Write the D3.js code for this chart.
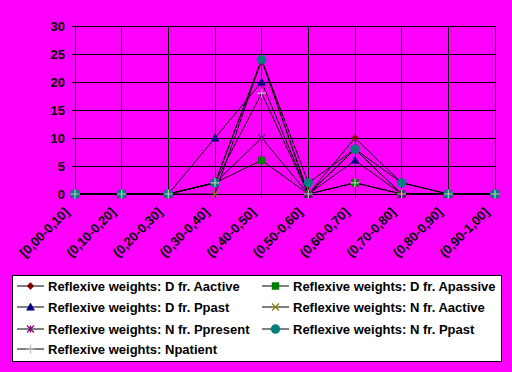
<!DOCTYPE html>
<html>
<head>
<meta charset="utf-8">
<script src="https://cdn.jsdelivr.net/npm/d3@7"></script>
<style>
  body { margin: 0; background: #ff00ff; }
  svg { display: block; font-family: Arial, "Liberation Sans", sans-serif; }
</style>
</head>
<body>
<div id="chart"></div>
<script>
// Categories and series values
const categories = ["[0,00-0,10]", "(0,10-0,20]", "(0,20-0,30]", "(0,30-0,40]", "(0,40-0,50]",
    "(0,50-0,60]", "(0,60-0,70]", "(0,70-0,80]", "(0,80-0,90]", "(0,90-1,00]"];
const seriesNames = [
    "Reflexive weights: D fr. Aactive",
    "Reflexive weights: D fr. Apassive",
    "Reflexive weights: D fr. Ppast",
    "Reflexive weights: N fr. Aactive",
    "Reflexive weights: N fr. Ppresent",
    "Reflexive weights: N fr. Ppast",
    "Reflexive weights: Npatient"
];
const dAactive  = [0, 0, 0, 2, 24, 0, 10, 2, 0, 0];
const dApassive = [0, 0, 0, 2, 6, 0, 2, 0, 0, 0];
const dPpast    = [0, 0, 0, 10, 20, 0, 6, 0, 0, 0];
const nAactive  = [0, 0, 0, 0, 24, 0, 8, 0, 0, 0];
const nPpresent = [0, 0, 0, 2, 10, 0, 8, 0, 0, 0];
const nPpast    = [0, 0, 0, 2, 24, 2, 8, 2, 0, 0];
const nPatient  = [0, 0, 0, 2, 18, 0, 2, 0, 0, 0];
const yTicks = [0, 5, 10, 15, 20, 25, 30];

const seriesValues = [dAactive, dApassive, dPpast, nAactive, nPpresent, nPpast, nPatient];
const colors = ["#800000", "#008000", "#000080", "#808000", "#800080", "#008080", "#c0c0c0"];
const shapes = ["diamond", "square", "triangle", "x", "asterisk", "circle", "plus"];

const width = 512, height = 372;

const svg = d3.select("#chart").append("svg")
    .attr("width", width)
    .attr("height", height);

svg.append("rect").attr("width", width).attr("height", height).attr("fill", "#ff00ff");

const x = d3.scalePoint().domain(categories).range([75, 495]);
const y = d3.scaleLinear().domain([0, 30]).range([194, 26]);

// Gridlines
const grid = svg.append("g").attr("stroke", "#000").attr("stroke-width", 1).attr("shape-rendering", "crispEdges");
grid.selectAll("line.h")
    .data(yTicks)
    .join("line")
    .attr("class", "h")
    .attr("x1", 72).attr("x2", 495)
    .attr("y1", d => y(d)).attr("y2", d => y(d));
grid.selectAll("line.v")
    .data(categories)
    .join("line")
    .attr("class", "v")
    .attr("x1", d => x(d)).attr("x2", d => x(d))
    .attr("y1", 26).attr("y2", 198);

// Y axis labels
svg.append("g")
    .selectAll("text")
    .data(yTicks)
    .join("text")
    .attr("x", 65)
    .attr("y", d => y(d) + 5)
    .attr("text-anchor", "end")
    .attr("font-size", 13)
    .attr("font-weight", "bold")
    .text(d => d);

// X axis labels, rotated
svg.append("g")
    .selectAll("text")
    .data(categories)
    .join("text")
    .attr("transform", d => `translate(${x(d) - 5},${213}) rotate(-45)`)
    .attr("text-anchor", "end")
    .attr("font-size", 13)
    .attr("font-weight", "bold")
    .text(d => d);

// Marker path builder
function markerPath(shape, s) {
    switch (shape) {
        case "diamond": return `M0,${-s}L${s},0L0,${s}L${-s},0Z`;
        case "square": return `M${-s},${-s}H${s}V${s}H${-s}Z`;
        case "triangle": return `M0,${-s}L${s},${s * 0.8}L${-s},${s * 0.8}Z`;
        case "x": return `M${-s},${-s}L${s},${s}M${s},${-s}L${-s},${s}`;
        case "asterisk": return `M${-s},${-s}L${s},${s}M${s},${-s}L${-s},${s}M0,${-s}V${s}`;
        case "plus": return `M${-s},0H${s}M0,${-s}V${s}`;
        case "circle": return d3.arc()({innerRadius: 0, outerRadius: s, startAngle: 0, endAngle: 2 * Math.PI});
    }
}
const markerSize = { diamond: 3.5, square: 3.5, triangle: 4, x: 3.5, asterisk: 3.5, circle: 4.5, plus: 4.5 };
const strokeShapes = ["x", "asterisk", "plus"];

function drawMarker(g, i, cx, cy) {
    const shape = shapes[i];
    const p = g.append("path")
        .attr("transform", `translate(${cx},${cy})`)
        .attr("d", markerPath(shape, markerSize[shape]));
    if (strokeShapes.includes(shape)) {
        p.attr("fill", "none").attr("stroke", colors[i]).attr("stroke-width", 1.2);
    } else {
        p.attr("fill", colors[i]).attr("stroke", colors[i]).attr("stroke-width", 0.5);
    }
}

// Lines
const line = d3.line()
    .x((d, i) => x(categories[i]))
    .y(d => y(d));

svg.append("g")
    .selectAll("path")
    .data(seriesValues)
    .join("path")
    .attr("d", d => line(d))
    .attr("fill", "none")
    .attr("stroke", "#000")
    .attr("stroke-width", 1);

// Markers, drawn series by series
const markers = svg.append("g");
seriesValues.forEach((vals, i) => {
    vals.forEach((v, j) => drawMarker(markers, i, x(categories[j]), y(v)));
});

// Legend
const legend = svg.append("g");
legend.append("rect")
    .attr("x", 12.5).attr("y", 275.5)
    .attr("width", 489).attr("height", 86)
    .attr("fill", "#fff")
    .attr("stroke", "#000");

const colX = [17, 262];
const rowY = [286, 307, 329, 349];
seriesNames.forEach((name, i) => {
    const lx = colX[i % 2], ly = rowY[Math.floor(i / 2)];
    const item = legend.append("g");
    item.append("line")
        .attr("x1", lx).attr("x2", lx + 27)
        .attr("y1", ly).attr("y2", ly)
        .attr("stroke", "#000");
    drawMarker(item, i, lx + 13.5, ly);
    item.append("text")
        .attr("x", lx + 31)
        .attr("y", ly + 5)
        .attr("font-size", 13)
        .attr("font-weight", "bold")
        .text(name);
});
</script>
</body>
</html>
